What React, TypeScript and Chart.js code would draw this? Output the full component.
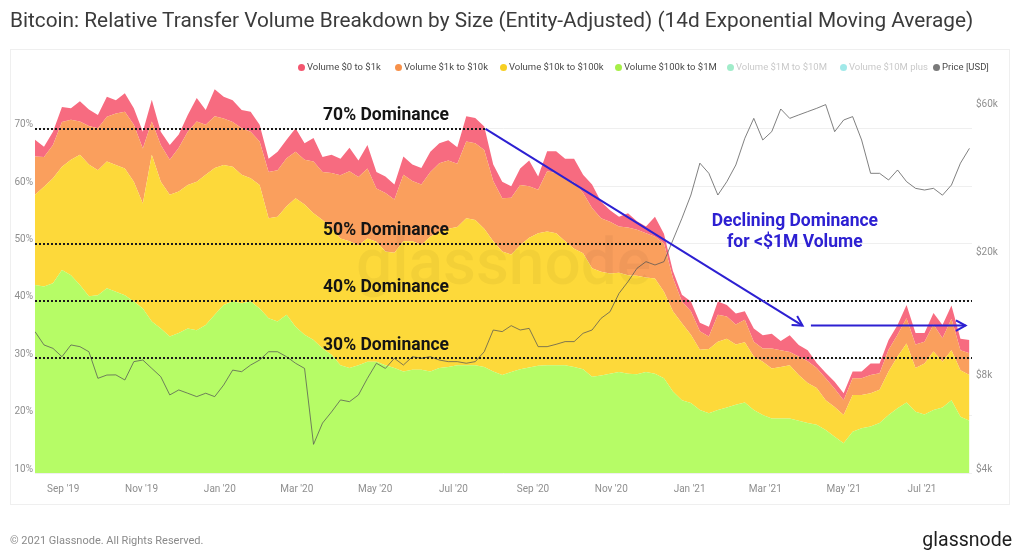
import React, { useEffect, useRef } from "react";
import { Chart, registerables } from "chart.js";

Chart.register(...registerables);

const TITLE =
  "Bitcoin: Relative Transfer Volume Breakdown by Size (Entity-Adjusted) (14d Exponential Moving Average)";

const START_DATE = "2019-08-10";
const STEP_DAYS = 7;

// share of transfer volume (%) per weekly sample
const VOL_100K_1M = [
  42.8, 42.5, 43.1, 45.4, 44.5, 42.8, 40.8, 41.0, 42.2, 41.6, 41.0, 39.9, 38.7, 36.4, 35.2, 33.8, 34.4, 35.2, 34.9, 35.8,
  37.6, 39.3, 39.9, 39.6, 39.9, 38.7, 37.0, 36.4, 37.6, 35.5, 34.1, 33.2, 31.7, 30.6, 28.8, 28.3, 28.8, 29.4, 29.4, 28.8,
  28.3, 27.7, 28.0, 28.0, 27.7, 28.3, 28.5, 28.8, 28.8, 28.8, 28.5, 27.7, 27.1, 27.6, 28.1, 28.4, 28.7, 28.8, 28.8, 28.8,
  28.5, 28.1, 26.8, 27.0, 27.3, 27.6, 27.3, 27.2, 27.6, 27.3, 26.5, 24.2, 22.7, 22.2, 21.0, 20.4, 21.0, 21.4, 21.9, 22.3,
  21.0, 20.1, 19.5, 19.5, 19.5, 19.1, 18.7, 18.4, 17.5, 16.3, 15.2, 17.2, 17.8, 18.1, 18.7, 20.1, 21.3, 22.3, 20.7, 20.2,
  21.0, 21.4, 22.7, 19.8, 19.1,
];
const VOL_10K_100K = [
  15.7, 17.4, 18.3, 18.0, 20.1, 22.7, 23.0, 21.8, 22.1, 22.1, 22.1, 20.9, 18.3, 29.1, 25.6, 24.7, 24.7, 25.0, 25.9, 26.2,
  25.6, 24.4, 23.5, 22.4, 21.5, 21.5, 17.4, 18.3, 18.9, 22.4, 22.7, 22.1, 22.4, 22.1, 22.1, 22.1, 20.9, 21.5, 20.9, 19.8,
  20.1, 22.7, 22.4, 21.8, 23.5, 23.8, 24.1, 24.1, 25.6, 25.3, 24.1, 22.7, 21.5, 20.5, 21.6, 22.6, 23.1, 23.3, 23.0, 21.6,
  20.6, 20.2, 18.9, 18.1, 17.5, 17.3, 17.2, 17.2, 16.5, 16.6, 15.1, 14.0, 13.4, 11.9, 10.5, 11.2, 11.9, 12.0, 10.5, 10.5,
  9.3, 9.3, 8.7, 9.0, 9.3, 8.0, 7.0, 6.4, 5.2, 5.2, 4.9, 6.4, 5.8, 5.8, 5.8, 7.6, 9.0, 10.3, 7.6, 8.9,
  10.2, 8.0, 8.7, 8.1, 8.0,
];
const VOL_1K_10K = [
  6.7, 5.2, 5.8, 7.8, 7.0, 5.8, 6.7, 7.3, 7.8, 9.0, 9.9, 9.9, 9.6, 5.8, 6.4, 6.1, 7.6, 9.3, 10.5, 8.7,
  9.0, 8.1, 7.8, 8.1, 8.1, 7.6, 8.1, 8.1, 8.4, 8.1, 7.8, 9.0, 8.4, 9.6, 11.0, 12.2, 11.9, 12.2, 9.3, 10.2,
  9.3, 11.6, 10.5, 10.5, 11.3, 11.9, 11.9, 11.0, 13.4, 13.4, 13.7, 10.5, 9.3, 9.9, 10.5, 9.0, 7.6, 10.5, 10.5, 11.0,
  11.6, 10.5, 10.5, 9.3, 9.0, 8.1, 8.3, 8.0, 7.7, 7.3, 8.4, 5.8, 3.8, 4.1, 3.2, 2.2, 4.7, 3.9, 3.5, 3.9,
  2.6, 2.3, 3.5, 2.9, 2.3, 3.2, 3.8, 3.5, 3.8, 3.2, 2.6, 2.9, 2.9, 3.2, 2.9, 3.8, 3.8, 4.4, 4.1, 3.8,
  4.7, 4.1, 5.5, 3.5, 3.8,
];
const VOL_0_1K = [
  2.9, 1.8, 2.3, 2.6, 2.0, 3.5, 2.9, 2.3, 3.5, 2.3, 3.2, 2.9, 2.9, 3.8, 2.3, 2.6, 2.3, 2.9, 4.1, 2.6,
  4.7, 3.8, 3.8, 3.2, 3.5, 2.9, 2.3, 3.2, 3.2, 4.1, 2.9, 4.1, 2.6, 3.2, 2.9, 4.1, 2.9, 4.1, 2.9, 2.9,
  2.6, 3.2, 2.9, 2.9, 3.5, 3.5, 3.5, 2.9, 4.4, 4.4, 4.1, 2.9, 2.9, 2.0, 2.9, 4.5, 2.3, 3.5, 3.8, 3.4,
  4.1, 3.2, 4.1, 2.9, 2.0, 1.7, 2.5, 1.5, 1.2, 3.5, 1.7, 1.2, 1.2, 1.7, 1.5, 1.7, 2.3, 2.0, 1.9, 1.5,
  2.3, 2.3, 2.6, 1.6, 2.9, 2.0, 1.9, 0.9, 1.0, 1.2, 1.2, 1.2, 1.2, 2.0, 1.7, 1.7, 1.7, 2.3, 2.0, 1.5,
  2.0, 2.3, 2.3, 2.0, 2.3,
];
const PRICE_USD = [
  11450, 10370, 10110, 9500, 10370, 10240, 9860, 8090, 8290, 8300, 7990, 9160, 9270, 8710, 8190, 7150, 7420, 7240, 7060, 7240,
  7060, 7700, 8600, 8500, 8930, 9270, 9860, 9860, 9500, 9050, 8710, 4950, 5800, 6300, 6890, 6800, 7150, 8090, 9050, 8710,
  9390, 8930, 9500, 9390, 9500, 9270, 9160, 9160, 9050, 9160, 9860, 11590, 11450, 11970, 11590, 11730, 10240, 10240, 10420, 10630,
  10630, 11310, 11590, 12640, 13280, 15220, 16610, 18340, 19270, 18800, 19270, 22630, 26600, 31640, 40100, 37180, 31640, 34950, 39560, 48240,
  55960, 47650, 50700, 60000, 55960, 57400, 58840, 60300, 62000, 50700, 55270, 56700, 47650, 37180, 37180, 35380, 38110, 34950, 33250, 32840,
  33250, 31600, 34080, 40100, 44770,
];

const X_TICK_DATES = [
  "2019-09-01", "2019-11-01", "2020-01-01", "2020-03-01", "2020-05-01", "2020-07-01",
  "2020-09-01", "2020-11-01", "2021-01-01", "2021-03-01", "2021-05-01", "2021-07-01",
];
const X_TICK_LABELS = [
  "Sep '19", "Nov '19", "Jan '20", "Mar '20", "May '20", "Jul '20",
  "Sep '20", "Nov '20", "Jan '21", "Mar '21", "May '21", "Jul '21",
];
const Y_TICKS = [10, 20, 30, 40, 50, 60, 70];
const PRICE_TICKS = [4000, 8000, 20000, 60000];

const DOMINANCE_LEVELS = [70, 50, 40, 30];
const DOMINANCE_END_DATES = ["2020-07-26", "2020-12-11", "2021-08-09", "2021-08-09"];

const LEGEND = [
  { label: "Volume $0 to $1k", color: "#f4566f", x: 301, faded: false },
  { label: "Volume $1k to $10k", color: "#f7914a", x: 398, faded: false },
  { label: "Volume $10k to $100k", color: "#f7cf22", x: 503, faded: false },
  { label: "Volume $100k to $1M", color: "#a6ef48", x: 618, faded: false },
  { label: "Volume $1M to $10M", color: "#2fd48a", x: 730, faded: true },
  { label: "Volume $10M plus", color: "#2fcfcf", x: 843, faded: true },
  { label: "Price [USD]", color: "#7a7a7a", x: 936, faded: false },
];

const dayOf = (iso: string) => (Date.parse(iso) - Date.parse(START_DATE)) / 86400000;
const X_TICK_DAYS = X_TICK_DATES.map(dayOf);

const FONT = "Roboto, 'Noto Sans', sans-serif";

const annotationPlugin = {
  id: "dominanceAnnotations",
  afterDatasetsDraw(chart: any) {
    const { ctx } = chart;
    const x = chart.scales.x;
    const y = chart.scales.y;
    ctx.save();

    // watermark
    ctx.font = `500 64px ${FONT}`;
    ctx.fillStyle = "rgba(0,0,0,0.04)";
    ctx.textAlign = "center";
    ctx.textBaseline = "middle";
    ctx.fillText("glassnode", x.getPixelForValue(365), y.getPixelForValue(45.7));

    // dotted dominance lines
    ctx.strokeStyle = "#1a1a1a";
    ctx.lineWidth = 2;
    ctx.setLineDash([2, 2]);
    DOMINANCE_LEVELS.forEach((lvl, i) => {
      const py = Math.round(y.getPixelForValue(lvl));
      ctx.beginPath();
      ctx.moveTo(x.left, py);
      ctx.lineTo(Math.min(x.right, x.getPixelForValue(dayOf(DOMINANCE_END_DATES[i]))), py);
      ctx.stroke();
    });
    ctx.setLineDash([]);

    // dominance labels
    ctx.font = `bold 17.5px ${FONT}`;
    ctx.fillStyle = "#141414";
    ctx.textAlign = "center";
    ctx.textBaseline = "middle";
    DOMINANCE_LEVELS.forEach((lvl) => {
      ctx.fillText(`${lvl}% Dominance`, x.getPixelForValue(273.5), y.getPixelForValue(lvl) - 13);
    });

    // arrows
    const blue = "#2d20d2";
    ctx.strokeStyle = blue;
    ctx.lineWidth = 2;
    const arrow = (x0: number, y0: number, x1: number, y1: number) => {
      ctx.beginPath();
      ctx.moveTo(x0, y0);
      ctx.lineTo(x1, y1);
      ctx.stroke();
      const a = Math.atan2(y1 - y0, x1 - x0);
      const len = 11;
      ctx.beginPath();
      ctx.moveTo(x1 - len * Math.cos(a - 0.5), y1 - len * Math.sin(a - 0.5));
      ctx.lineTo(x1, y1);
      ctx.lineTo(x1 - len * Math.cos(a + 0.5), y1 - len * Math.sin(a + 0.5));
      ctx.stroke();
    };
    arrow(x.getPixelForValue(351), y.getPixelForValue(70), x.getPixelForValue(598), y.getPixelForValue(35.7));
    arrow(x.getPixelForValue(604.5), y.getPixelForValue(35.7), x.getPixelForValue(725), y.getPixelForValue(35.7));

    // blue text
    ctx.fillStyle = blue;
    ctx.font = `bold 17.5px ${FONT}`;
    const tx = x.getPixelForValue(592);
    const ty = y.getPixelForValue(53.8);
    ctx.fillText("Declining Dominance", tx, ty);
    ctx.fillText("for <$1M Volume", tx, ty + 21);

    ctx.restore();
  },
};

export default function App() {
  const canvasRef = useRef<HTMLCanvasElement | null>(null);

  useEffect(() => {
    const canvas = canvasRef.current;
    if (!canvas) return;
    const days = VOL_100K_1M.map((_, i) => i * STEP_DAYS);
    const pts = (arr: number[]) => arr.map((v, i) => ({ x: days[i], y: v }));
    const tickFont = { family: FONT, size: 10 };

    const chart = new Chart(canvas, {
      type: "line",
      data: {
        datasets: [
          {
            label: "Price [USD]",
            data: pts(PRICE_USD),
            yAxisID: "y1",
            borderColor: "rgba(85,85,85,0.75)",
            borderWidth: 1,
            pointRadius: 0,
            fill: false,
            tension: 0,
          },
          {
            label: "Volume $100k to $1M",
            data: pts(VOL_100K_1M),
            yAxisID: "y",
            backgroundColor: "#b6fc66",
            borderWidth: 0,
            pointRadius: 0,
            fill: "origin",
            tension: 0,
          },
          {
            label: "Volume $10k to $100k",
            data: pts(VOL_10K_100K),
            yAxisID: "y",
            backgroundColor: "#fdd93a",
            borderWidth: 0,
            pointRadius: 0,
            fill: "-1",
            tension: 0,
          },
          {
            label: "Volume $1k to $10k",
            data: pts(VOL_1K_10K),
            yAxisID: "y",
            backgroundColor: "#fa9f5d",
            borderWidth: 0,
            pointRadius: 0,
            fill: "-1",
            tension: 0,
          },
          {
            label: "Volume $0 to $1k",
            data: pts(VOL_0_1K),
            yAxisID: "y",
            backgroundColor: "#f76b80",
            borderWidth: 0,
            pointRadius: 0,
            fill: "-1",
            tension: 0,
          },
        ],
      },
      options: {
        animation: false,
        responsive: false,
        maintainAspectRatio: false,
        events: [],
        layout: { padding: { top: 83, left: 0, right: 0, bottom: 0 } },
        plugins: { legend: { display: false }, tooltip: { enabled: false }, title: { display: false } },
        scales: {
          x: {
            type: "linear",
            min: 0,
            max: 730,
            grid: { display: false, drawTicks: false },
            border: { display: false },
            afterBuildTicks: (s: any) => {
              s.ticks = X_TICK_DAYS.map((v) => ({ value: v }));
            },
            afterFit: (s: any) => {
              s.height = 85;
            },
            ticks: {
              autoSkip: false,
              maxRotation: 0,
              padding: 10,
              color: "#8f8f8f",
              font: tickFont,
              callback: (_v: any, i: number) => X_TICK_LABELS[i],
            },
          },
          y: {
            type: "linear",
            position: "left",
            stacked: true,
            min: 10,
            max: 78,
            grid: { color: "#efefef", drawTicks: false },
            border: { display: false },
            afterBuildTicks: (s: any) => {
              s.ticks = Y_TICKS.map((v) => ({ value: v }));
            },
            afterFit: (s: any) => {
              s.width = 35;
            },
            ticks: {
              padding: 2,
              labelOffset: -4,
              color: "#8f8f8f",
              font: tickFont,
              callback: (v: any) => `${v}%`,
            },
          },
          y1: {
            type: "logarithmic",
            position: "right",
            min: 4000,
            max: 72800,
            grid: { display: false, drawTicks: false },
            border: { display: false },
            afterBuildTicks: (s: any) => {
              s.ticks = PRICE_TICKS.map((v) => ({ value: v }));
            },
            afterFit: (s: any) => {
              s.width = 51;
            },
            ticks: {
              padding: 4,
              labelOffset: -4,
              color: "#8f8f8f",
              font: tickFont,
              callback: (v: any) => `$${Number(v) / 1000}k`,
            },
          },
        },
      },
      plugins: [annotationPlugin],
    } as any);

    return () => chart.destroy();
  }, []);

  return (
    <div
      style={{
        position: "absolute",
        left: 0,
        top: 0,
        width: 1023,
        height: 558,
        background: "#ffffff",
        overflow: "hidden",
        fontFamily: FONT,
      }}
    >
      <div
        style={{
          position: "absolute",
          left: 10,
          top: 49,
          width: 1000,
          height: 456,
          border: "1px solid #efefef",
          boxSizing: "border-box",
        }}
      />
      <canvas
        ref={canvasRef}
        width={1023}
        height={558}
        style={{ position: "absolute", left: 0, top: 0, width: 1023, height: 558 }}
      />
      <div
        style={{
          position: "absolute",
          left: 10,
          top: 7,
          fontSize: 20.8,
          lineHeight: "26px",
          color: "#3b3b3b",
          whiteSpace: "nowrap",
        }}
      >
        {TITLE}
      </div>
      {LEGEND.map((it) => (
        <div key={it.label}>
          <div
            style={{
              position: "absolute",
              left: it.x - 3.5,
              top: 63.5,
              width: 7,
              height: 7,
              borderRadius: "50%",
              background: it.color,
              opacity: it.faded ? 0.45 : 1,
            }}
          />
          <div
            style={{
              position: "absolute",
              left: it.x + 6,
              top: 61,
              fontSize: 9.5,
              lineHeight: "12px",
              color: it.faded ? "#c9c9c9" : "#4a4a4a",
              whiteSpace: "nowrap",
            }}
          >
            {it.label}
          </div>
        </div>
      ))}
      <div
        style={{
          position: "absolute",
          left: 10,
          top: 534,
          fontSize: 11,
          lineHeight: "14px",
          color: "#8a8a8a",
          whiteSpace: "nowrap",
        }}
      >
        © 2021 Glassnode. All Rights Reserved.
      </div>
      <div
        style={{
          position: "absolute",
          right: 11,
          top: 528,
          fontSize: 19.5,
          lineHeight: "24px",
          color: "#1e1e1e",
          whiteSpace: "nowrap",
        }}
      >
        glassnode
      </div>
    </div>
  );
}
